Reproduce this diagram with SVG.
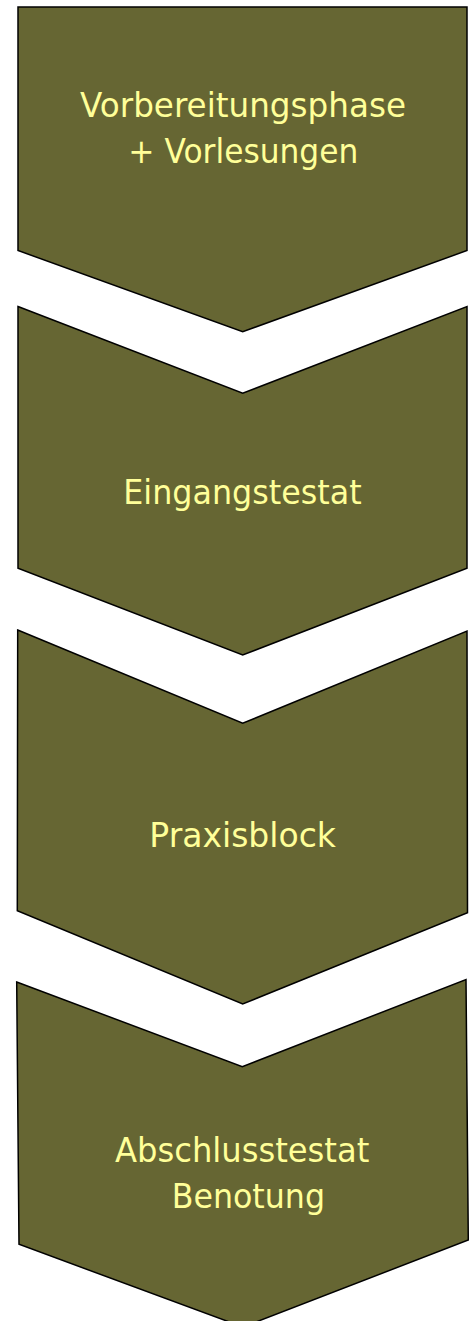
<svg xmlns="http://www.w3.org/2000/svg" width="470" height="1321" viewBox="0 0 470 1321">
<style>
.chev{fill:#666633;stroke:#000;stroke-width:1.5;stroke-linejoin:miter}
.lbl{font-family:"DejaVu Sans","Liberation Sans",sans-serif;font-size:33px;fill:#FFFF99}
</style>
<rect width="470" height="1321" fill="#fff"/>
<g id="connectors"/>
<g id="node1">
<polygon class="chev" points="18,7 467,7 467,250.5 242.7,331.7 18,250.5"/>
<text class="lbl" x="80" y="116.7" textLength="326" lengthAdjust="spacingAndGlyphs">Vorbereitungsphase</text>
<text class="lbl" x="128.3" y="163.3" textLength="230" lengthAdjust="spacingAndGlyphs">+ Vorlesungen</text>
</g>
<g id="node2">
<polygon class="chev" points="18,306.5 242.7,393.3 467,306.5 467,568.3 242.7,655 18,568.3"/>
<text class="lbl" x="123.3" y="504" textLength="238.3" lengthAdjust="spacingAndGlyphs">Eingangstestat</text>
</g>
<g id="node3">
<polygon class="chev" points="17.7,630 242.7,723.3 467,631 467.5,912.7 242.7,1004 17.3,910.7"/>
<text class="lbl" x="149.3" y="847.3" textLength="186.7" lengthAdjust="spacingAndGlyphs">Praxisblock</text>
</g>
<g id="node4">
<polygon class="chev" points="16.7,982 242.3,1066.7 466,979.5 468.3,1240 243,1327 19,1244.3"/>
<text class="lbl" x="115" y="1161.7" textLength="254.3" lengthAdjust="spacingAndGlyphs">Abschlusstestat</text>
<text class="lbl" x="171.7" y="1208.3" textLength="153.3" lengthAdjust="spacingAndGlyphs">Benotung</text>
</g>
</svg>
